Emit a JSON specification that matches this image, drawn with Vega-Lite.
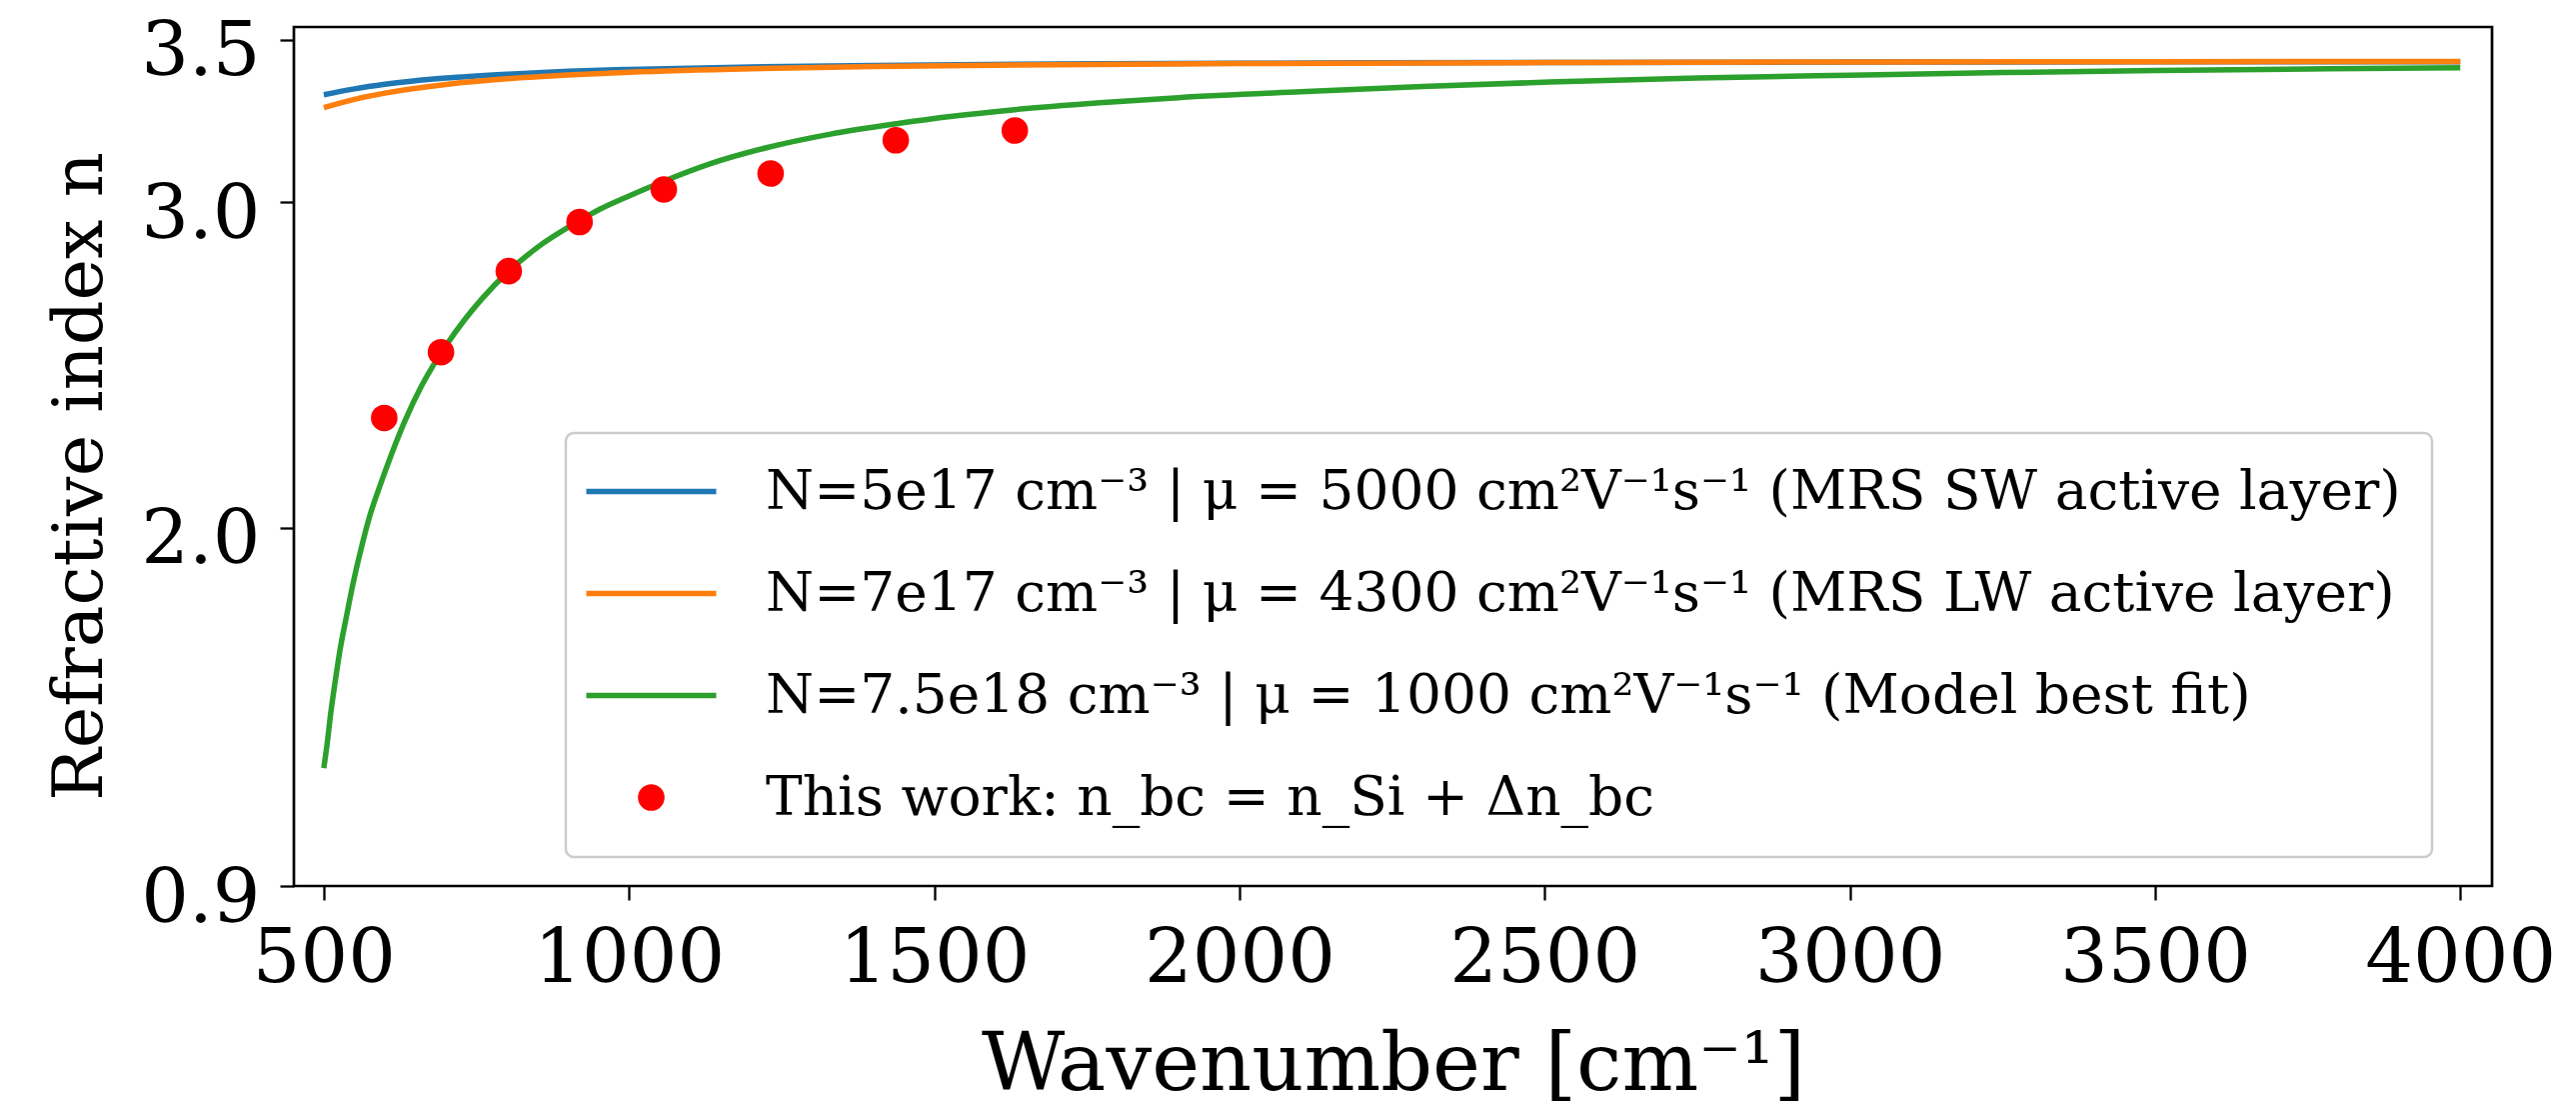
{
  "$schema": "https://vega.github.io/schema/vega-lite/v6.json",
  "width": 2199,
  "height": 859,
  "autosize": {"type": "none"},
  "padding": {"left": 294, "top": 27, "right": 84, "bottom": 222},
  "background": "white",
  "config": {
    "font": "DejaVu Serif",
    "view": {"stroke": "black", "strokeWidth": 2.7},
    "axis": {
      "grid": false, "domain": false,
      "tickColor": "black", "tickWidth": 2.3, "tickSize": 14,
      "labelColor": "black", "titleColor": "black",
      "labelFont": "DejaVu Serif", "titleFont": "DejaVu Serif",
      "labelFontSize": 75, "titleFontSize": 76, "titleFontWeight": "normal",
      "labelOverlap": false, "labelFlush": false, "labelBound": false, "labelLimit": 1000
    }
  },
  "data": {
    "values": [
      {"s": "sw", "w": 500, "n": 3.331}, {"s": "sw", "w": 550, "n": 3.349}, {"s": "sw", "w": 600, "n": 3.363},
      {"s": "sw", "w": 700, "n": 3.382}, {"s": "sw", "w": 800, "n": 3.394}, {"s": "sw", "w": 900, "n": 3.403},
      {"s": "sw", "w": 1000, "n": 3.4086}, {"s": "sw", "w": 1200, "n": 3.4164}, {"s": "sw", "w": 1400, "n": 3.4211},
      {"s": "sw", "w": 1700, "n": 3.4253}, {"s": "sw", "w": 2000, "n": 3.4277}, {"s": "sw", "w": 2500, "n": 3.43},
      {"s": "sw", "w": 3000, "n": 3.4313}, {"s": "sw", "w": 3500, "n": 3.432}, {"s": "sw", "w": 4000, "n": 3.4325},
      {"s": "lw", "w": 500, "n": 3.291}, {"s": "lw", "w": 550, "n": 3.3165}, {"s": "lw", "w": 600, "n": 3.3358},
      {"s": "lw", "w": 700, "n": 3.3625}, {"s": "lw", "w": 800, "n": 3.3797}, {"s": "lw", "w": 900, "n": 3.3915},
      {"s": "lw", "w": 1000, "n": 3.3999}, {"s": "lw", "w": 1200, "n": 3.4107}, {"s": "lw", "w": 1400, "n": 3.4173},
      {"s": "lw", "w": 1700, "n": 3.4232}, {"s": "lw", "w": 2000, "n": 3.4266}, {"s": "lw", "w": 2500, "n": 3.4297},
      {"s": "lw", "w": 3000, "n": 3.4315}, {"s": "lw", "w": 3500, "n": 3.4325}, {"s": "lw", "w": 4000, "n": 3.4332},
      {"s": "fit", "w": 500, "n": 1.262}, {"s": "fit", "w": 505, "n": 1.33}, {"s": "fit", "w": 512, "n": 1.44},
      {"s": "fit", "w": 518, "n": 1.52}, {"s": "fit", "w": 527, "n": 1.63}, {"s": "fit", "w": 537, "n": 1.727},
      {"s": "fit", "w": 548, "n": 1.83}, {"s": "fit", "w": 561, "n": 1.935}, {"s": "fit", "w": 575, "n": 2.035},
      {"s": "fit", "w": 594, "n": 2.14}, {"s": "fit", "w": 610, "n": 2.222}, {"s": "fit", "w": 632, "n": 2.325},
      {"s": "fit", "w": 660, "n": 2.436}, {"s": "fit", "w": 681, "n": 2.505}, {"s": "fit", "w": 700, "n": 2.56},
      {"s": "fit", "w": 730, "n": 2.638}, {"s": "fit", "w": 760, "n": 2.706}, {"s": "fit", "w": 803, "n": 2.789},
      {"s": "fit", "w": 850, "n": 2.862}, {"s": "fit", "w": 919, "n": 2.944}, {"s": "fit", "w": 952, "n": 2.979},
      {"s": "fit", "w": 1000, "n": 3.02}, {"s": "fit", "w": 1058, "n": 3.066}, {"s": "fit", "w": 1130, "n": 3.117},
      {"s": "fit", "w": 1225, "n": 3.168}, {"s": "fit", "w": 1330, "n": 3.21}, {"s": "fit", "w": 1438, "n": 3.242},
      {"s": "fit", "w": 1530, "n": 3.265}, {"s": "fit", "w": 1632, "n": 3.285}, {"s": "fit", "w": 1771, "n": 3.306},
      {"s": "fit", "w": 1900, "n": 3.322}, {"s": "fit", "w": 2100, "n": 3.34}, {"s": "fit", "w": 2300, "n": 3.356},
      {"s": "fit", "w": 2508, "n": 3.37}, {"s": "fit", "w": 2750, "n": 3.382}, {"s": "fit", "w": 3000, "n": 3.391},
      {"s": "fit", "w": 3250, "n": 3.399}, {"s": "fit", "w": 3500, "n": 3.405}, {"s": "fit", "w": 3750, "n": 3.41},
      {"s": "fit", "w": 4000, "n": 3.414},
      {"s": "work", "w": 599, "n": 2.338}, {"s": "work", "w": 692, "n": 2.54}, {"s": "work", "w": 803, "n": 2.789},
      {"s": "work", "w": 919, "n": 2.94}, {"s": "work", "w": 1057, "n": 3.04}, {"s": "work", "w": 1232, "n": 3.089},
      {"s": "work", "w": 1437, "n": 3.191}, {"s": "work", "w": 1632, "n": 3.221}
    ]
  },
  "encoding": {
    "x": {
      "field": "w", "type": "quantitative",
      "scale": {"domain": [451, 4052], "nice": false, "zero": false},
      "axis": {
        "values": [500, 1000, 1500, 2000, 2500, 3000, 3500, 4000], "format": "d",
        "title": "Wavenumber [cm⁻¹]", "labelPadding": 22,
        "titleY": 203, "titleBaseline": "alphabetic", "titleFontSize": 81
      }
    },
    "y": {
      "field": "n", "type": "quantitative",
      "scale": {"domain": [0.9, 3.539], "nice": false, "zero": false},
      "axis": {
        "values": [0.9, 2.0, 3.0, 3.5], "format": ".1f",
        "title": "Refractive index n", "labelPadding": 20, "labelOffset": 12,
        "titleX": -193, "titleY": 449, "titleBaseline": "alphabetic", "titleFontSize": 70
      }
    },
    "color": {
      "field": "s", "type": "nominal",
      "scale": {"domain": ["sw", "lw", "fit", "work"], "range": ["#1f77b4", "#ff7f0e", "#2ca02c", "#ff0000"]},
      "legend": {
        "title": null, "orient": "none", "legendX": 272, "legendY": 406, "direction": "vertical",
        "fillColor": "white", "strokeColor": "#cccccc", "cornerRadius": 8, "padding": 31,
        "labelFont": "DejaVu Serif", "labelFontSize": 55, "labelColor": "black", "labelLimit": 3000,
        "symbolSize": 6400, "symbolOffset": 27, "labelOffset": 87, "rowPadding": 46,
        "labelExpr": "datum.value === 'sw' ? 'N=5e17 cm⁻³ | μ = 5000 cm²V⁻¹s⁻¹ (MRS SW active layer)' : datum.value === 'lw' ? 'N=7e17 cm⁻³ | μ = 4300 cm²V⁻¹s⁻¹ (MRS LW active layer)' : datum.value === 'fit' ? 'N=7.5e18 cm⁻³ | μ = 1000 cm²V⁻¹s⁻¹ (Model best fit)' : 'This work: n_bc = n_Si + Δn_bc'",
        "encode": {
          "legend": {"update": {"strokeWidth": {"value": 2.5}}},
          "symbols": {"update": {
            "shape": {"signal": "datum.value === 'work' ? 'circle' : 'stroke'"},
            "size": {"signal": "datum.value === 'work' ? 707 : 16900"},
            "fill": {"signal": "datum.value === 'work' ? '#ff0000' : 'transparent'"},
            "stroke": {"signal": "datum.value === 'work' ? 'transparent' : scale('color', datum.value)"},
            "strokeWidth": {"signal": "datum.value === 'work' ? 0 : 5.5"},
            "opacity": {"value": 1}
          }}
        }
      }
    }
  },
  "layer": [
    {
      "transform": [{"filter": "datum.s !== 'work'"}],
      "mark": {"type": "line", "strokeWidth": 5.5, "interpolate": "monotone"}
    },
    {
      "transform": [{"filter": "datum.s === 'work'"}],
      "mark": {"type": "point", "filled": true, "size": 707, "opacity": 1, "strokeWidth": 0}
    }
  ]
}
